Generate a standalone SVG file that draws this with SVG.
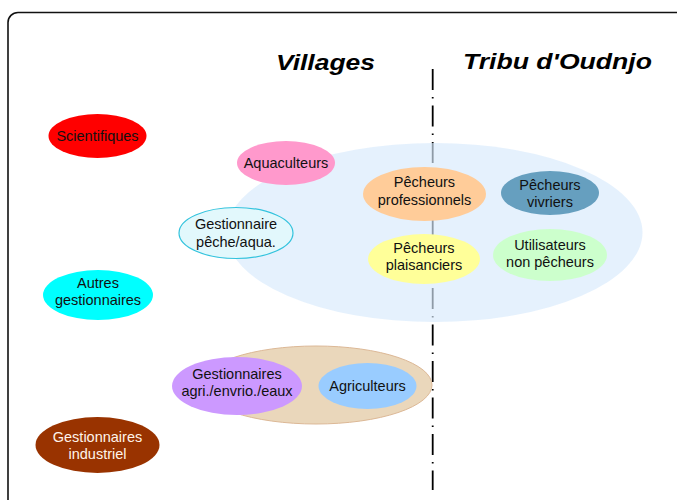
<svg xmlns="http://www.w3.org/2000/svg" width="677" height="500" viewBox="0 0 677 500">
<style>
  text { font-family: "Liberation Sans", Arial, sans-serif; font-size: 14.5px; fill: #111; text-anchor: middle; }
  .title { font-size: 21.5px; font-weight: bold; font-style: italic; text-anchor: start; fill: #000; }
  .light { fill: #fff3ea; }
</style>
<rect x="8" y="12.5" width="700" height="500" rx="10" ry="10" fill="#fff" stroke="#111" stroke-width="1.6"/>
<g id="titles">
  <text class="title" x="276" y="69.5" textLength="99" lengthAdjust="spacingAndGlyphs">Villages</text>
  <text class="title" x="463" y="68.5" textLength="189" lengthAdjust="spacingAndGlyphs">Tribu d'Oudnjo</text>
</g>
<g id="connectors">
  <line x1="432.7" y1="69" x2="432.7" y2="490" stroke="#000" stroke-width="1.8" stroke-dasharray="21 7 1.5 7"/>
</g>
<g id="zone-peche">
  <ellipse cx="434.5" cy="232.5" rx="208" ry="89.5" fill="rgb(215,234,252)" fill-opacity="0.66"/>
</g>
<g id="zone-agri">
  <ellipse cx="316" cy="385" rx="116" ry="39" fill="#ead7bb" stroke="#dcb896" stroke-width="1"/>
</g>
<g id="scientifiques">
  <ellipse cx="97.5" cy="136" rx="49" ry="22" fill="#ff0000"/>
  <text x="97.5" y="141">Scientifiques</text>
</g>
<g id="autres-gestionnaires">
  <ellipse cx="98" cy="295" rx="55" ry="25" fill="#00ffff"/>
  <text x="98" y="287.5">Autres</text>
  <text x="98" y="305">gestionnaires</text>
</g>
<g id="gestionnaires-industriel">
  <ellipse cx="97.5" cy="445" rx="62" ry="28" fill="#993300"/>
  <text class="light" x="97.5" y="441.5">Gestionnaires</text>
  <text class="light" x="97.5" y="459">industriel</text>
</g>
<g id="aquaculteurs">
  <ellipse cx="286" cy="163" rx="49" ry="22" fill="#ff99cc"/>
  <text x="286" y="168">Aquaculteurs</text>
</g>
<g id="gestionnaire-peche">
  <ellipse cx="236" cy="233" rx="57" ry="25.5" fill="#e2f8fc" stroke="#33c3dd" stroke-width="1.2"/>
  <text x="236" y="229">Gestionnaire</text>
  <text x="236" y="246.5">pêche/aqua.</text>
</g>
<g id="pecheurs-professionnels">
  <ellipse cx="424.5" cy="194" rx="61.5" ry="27" fill="#ffcc99"/>
  <text x="424.5" y="187">Pêcheurs</text>
  <text x="424.5" y="205">professionnels</text>
</g>
<g id="pecheurs-vivriers">
  <ellipse cx="550" cy="193" rx="49" ry="22" fill="#669fbf"/>
  <text x="550" y="190">Pêcheurs</text>
  <text x="550" y="207">vivriers</text>
</g>
<g id="pecheurs-plaisanciers">
  <ellipse cx="424" cy="259" rx="56" ry="25" fill="#ffff99"/>
  <text x="424" y="253">Pêcheurs</text>
  <text x="424" y="270">plaisanciers</text>
</g>
<g id="utilisateurs">
  <ellipse cx="550" cy="255" rx="57" ry="26" fill="#ccffcc"/>
  <text x="550" y="250">Utilisateurs</text>
  <text x="550" y="266.5">non pêcheurs</text>
</g>
<g id="gestionnaires-agri">
  <ellipse cx="237" cy="386" rx="65" ry="29" fill="#cc99ff"/>
  <text x="237" y="378.5">Gestionnaires</text>
  <text x="237" y="396">agri./envrio./eaux</text>
</g>
<g id="agriculteurs">
  <ellipse cx="367.5" cy="386" rx="49" ry="23" fill="#99ccff"/>
  <text x="367.5" y="391">Agriculteurs</text>
</g>
</svg>
